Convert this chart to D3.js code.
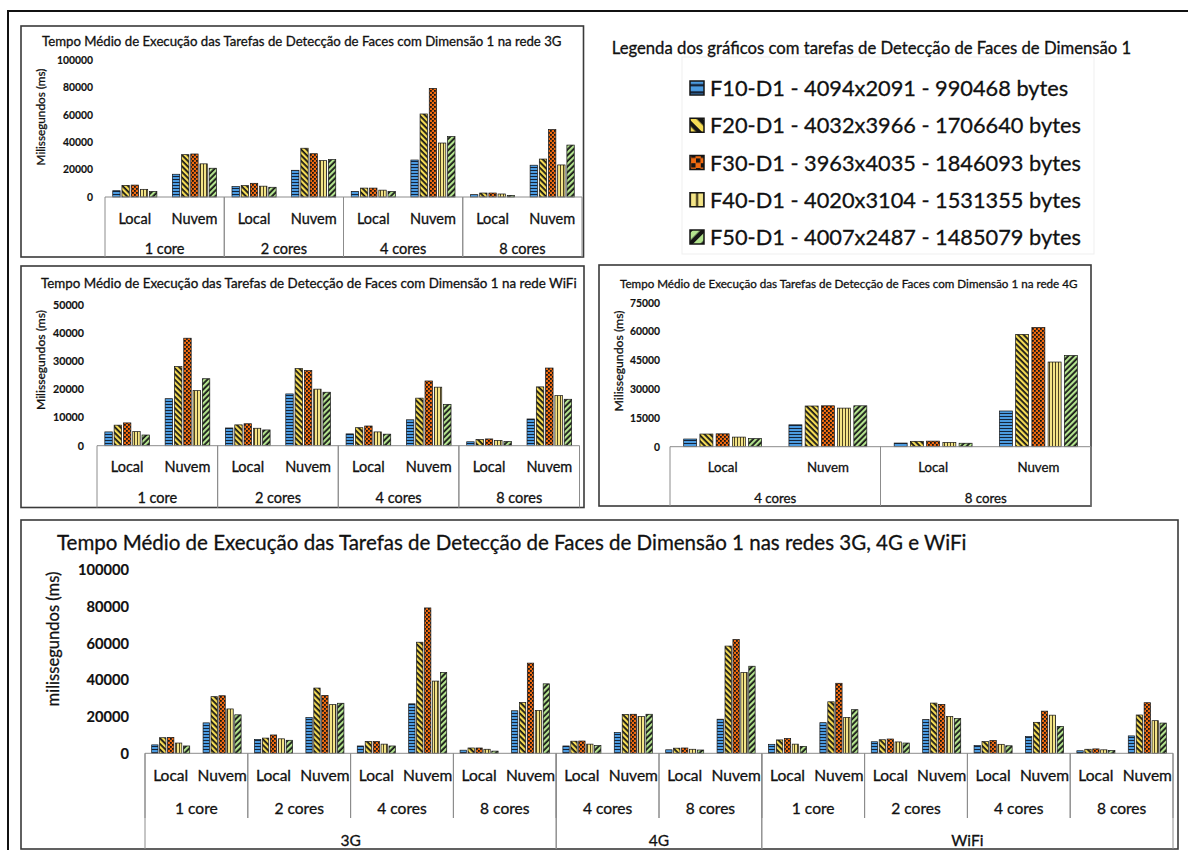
<!DOCTYPE html>
<html>
<head>
<meta charset="utf-8">
<script src="https://cdn.jsdelivr.net/npm/d3@7"></script>
<style>
  body { margin: 0; background: #fff; }
  svg { display: block; }
  text { font-family: Lato, "Open Sans", sans-serif; fill: #111; stroke: #111; stroke-width: 0.3px; }
  .tick text { stroke-width: 0.15px; }
</style>
</head>
<body>
<svg id="chart" width="1188" height="850"></svg>
<script>
// ---- data ----
const series = ["F10-D1", "F20-D1", "F30-D1", "F40-D1", "F50-D1"];
const legendLabels = [
  "F10-D1 - 4094x2091 - 990468 bytes",
  "F20-D1 - 4032x3966 - 1706640 bytes",
  "F30-D1 - 3963x4035 - 1846093 bytes",
  "F40-D1 - 4020x3104 - 1531355 bytes",
  "F50-D1 - 4007x2487 - 1485079 bytes"
];
const modes = ["Local", "Nuvem"];
const cores = ["1 core", "2 cores", "4 cores", "8 cores"];
const cores4G = ["4 cores", "8 cores"];
const networks = ["3G", "4G", "WiFi"];

// rows: F10..F50 ; columns: Local/Nuvem per core count (ms)
const values3G = [
  [4600, 16600, 7600, 19500, 4000, 27000, 1700, 23200],
  [8500, 30900, 8300, 35600, 6500, 60600, 2900, 27700],
  [8700, 31400, 10000, 31600, 6500, 79300, 2900, 49200],
  [5600, 24200, 7900, 26600, 5000, 39400, 2200, 23400],
  [4000, 21000, 7100, 27300, 4000, 44100, 1200, 37900]
];
const values4G = [
  [4000, 11400, 1900, 18600],
  [6600, 21200, 2800, 58500],
  [6700, 21300, 2900, 62100],
  [5000, 20100, 2200, 44100],
  [4200, 21300, 1800, 47500]
];
const valuesWiFi = [
  [4900, 16700, 6300, 18400, 4200, 9200, 1400, 9500],
  [7300, 28100, 7400, 27400, 6400, 16900, 2200, 20900],
  [8100, 38200, 7800, 26700, 7000, 23000, 2400, 27600],
  [5000, 19600, 6200, 20100, 4900, 20800, 1900, 17800],
  [3800, 23800, 5600, 19000, 4100, 14700, 1500, 16500]
];

const ticks3G = [0, 20000, 40000, 60000, 80000, 100000];
const ticksWiFi = [0, 10000, 20000, 30000, 40000, 50000];
const ticks4G = [0, 15000, 30000, 45000, 60000, 75000];
const ticksAll = [0, 20000, 40000, 60000, 80000, 100000];

const title3G = "Tempo Médio de Execução das Tarefas de Detecção de Faces com Dimensão 1 na rede 3G";
const titleWiFi = "Tempo Médio de Execução das Tarefas de Detecção de Faces com  Dimensão 1 na rede WiFi";
const title4G = "Tempo Médio de Execução das Tarefas de Detecção de Faces com Dimensão 1 na rede 4G";
const titleAll = "Tempo Médio de Execução das Tarefas de Detecção de Faces de Dimensão 1 nas redes 3G, 4G e WiFi";
const legendTitle = "Legenda dos gráficos com tarefas de Detecção de Faces de Dimensão 1";

// ---- styling ----
const colors = ["#4c9be0", "#f5dc55", "#f06a10", "#f3e487", "#b3e38e"];
const ink = "#151515";

const svg = d3.select("#chart");
svg.append("rect").attr("width", 1188).attr("height", 850).attr("fill", "#fff");
const defs = svg.append("defs");

// fill patterns for each series; k scales the motif
function makePattern(id, si, k) {
  let p;
  if (si === 0) { // horizontal stripes
    p = defs.append("pattern").attr("id", id).attr("patternUnits", "userSpaceOnUse")
      .attr("width", 3 * k).attr("height", 3 * k);
    p.append("rect").attr("width", 3 * k).attr("height", 3 * k).attr("fill", colors[0]);
    p.append("rect").attr("y", 2 * k).attr("width", 3 * k).attr("height", 1 * k).attr("fill", "#14243a");
  } else if (si === 1 || si === 4) { // diagonal stripes
    p = defs.append("pattern").attr("id", id).attr("patternUnits", "userSpaceOnUse")
      .attr("width", 4 * k).attr("height", 4 * k)
      .attr("patternTransform", `rotate(${si === 1 ? -45 : 45})`);
    p.append("rect").attr("width", 4 * k).attr("height", 4 * k).attr("fill", ink);
    p.append("rect").attr("width", 2.2 * k).attr("height", 4 * k).attr("fill", colors[si]);
  } else if (si === 2) { // checker
    p = defs.append("pattern").attr("id", id).attr("patternUnits", "userSpaceOnUse")
      .attr("width", 4 * k).attr("height", 4 * k);
    p.append("rect").attr("width", 4 * k).attr("height", 4 * k).attr("fill", colors[2]);
    p.append("rect").attr("width", 1.8 * k).attr("height", 1.8 * k).attr("fill", ink);
    p.append("rect").attr("x", 2 * k).attr("y", 2 * k).attr("width", 1.8 * k).attr("height", 1.8 * k).attr("fill", ink);
  } else { // vertical stripes
    p = defs.append("pattern").attr("id", id).attr("patternUnits", "userSpaceOnUse")
      .attr("width", 3 * k).attr("height", 3 * k);
    p.append("rect").attr("width", 3 * k).attr("height", 3 * k).attr("fill", colors[3]);
    p.append("rect").attr("x", 2 * k).attr("width", 0.9 * k).attr("height", 3 * k).attr("fill", "#3b3115");
  }
}
series.forEach((s, i) => { makePattern("pat" + i, i, 1); makePattern("leg" + i, i, 2.4); });

// font size that makes a string span a given width
function fitSize(text, weight, width) {
  const t = svg.append("text").attr("font-size", 100).attr("font-weight", weight).text(text);
  const w = t.node().getComputedTextLength();
  t.remove();
  return 100 * width / w;
}

function drawChart(c) {
  const g = svg.append("g");
  g.append("rect")
    .attr("x", c.box[0]).attr("y", c.box[1])
    .attr("width", c.box[2] - c.box[0]).attr("height", c.box[3] - c.box[1])
    .attr("fill", "#fff").attr("stroke", "#3a3a3a").attr("stroke-width", 1.6);

  g.append("text")
    .attr("x", c.titleX).attr("y", c.titleY).attr("dominant-baseline", "central")
    .attr("font-size", fitSize(c.title, "normal", c.titleW))
    .text(c.title);

  const y = d3.scaleLinear().domain([0, c.yMax]).range([c.yBase, c.yTop]);
  const ag = g.append("g").attr("transform", `translate(${c.tickX},0)`)
    .call(d3.axisLeft(y).tickValues(c.ticks).tickSize(0).tickPadding(0).tickFormat(d3.format("d")));
  ag.select(".domain").remove();
  ag.attr("font-family", null)
    .attr("font-size", fitSize(String(c.ticks[c.ticks.length - 1]), "bold", c.tickW))
    .attr("font-weight", "bold");
  ag.selectAll("text").attr("fill", "#111");

  g.append("text")
    .attr("transform", `translate(${c.yLabelX},${c.yLabelY}) rotate(-90)`)
    .attr("text-anchor", "middle").attr("dominant-baseline", "central")
    .attr("font-size", fitSize(c.yLabel, "normal", c.yLabelLen))
    .text(c.yLabel);

  const leaves = c.leaves;
  const x0 = d3.scaleBand().domain(d3.range(leaves.length)).range([c.xStart, c.xEnd]);
  const bw = x0.bandwidth();
  const x1 = d3.scaleBand().domain(series).range([bw * 0.13, bw * 0.87]).paddingInner(0.2);

  series.forEach((s, si) => {
    g.append("g").selectAll("rect").data(c.values[si]).join("rect")
      .attr("x", (d, i) => x0(i) + x1(s))
      .attr("width", x1.bandwidth())
      .attr("y", d => y(d))
      .attr("height", d => y(0) - y(d))
      .attr("fill", `url(#pat${si})`)
      .attr("stroke", ink).attr("stroke-width", 0.7);
  });

  // category table below the bars
  const catSize = fitSize("Nuvem", "normal", c.catW);
  g.append("line").attr("x1", c.xStart).attr("x2", c.xEnd)
    .attr("y1", y(0)).attr("y2", y(0)).attr("stroke", "#8c8c8c").attr("stroke-width", 1);
  const depth = leaves[0].length;
  for (let k = 0; k < depth; k++) {
    const spans = [];
    leaves.forEach((lf, i) => {
      const key = lf.slice(k).join("|");
      if (!spans.length || spans[spans.length - 1].key !== key) spans.push({ key, label: lf[k], start: i, end: i });
      else spans[spans.length - 1].end = i;
    });
    spans.forEach(sp => {
      const xa = x0(sp.start), xb = x0(sp.end) + bw;
      g.append("text").attr("x", (xa + xb) / 2).attr("y", c.rowY[k])
        .attr("text-anchor", "middle").attr("dominant-baseline", "central")
        .attr("font-size", catSize).text(sp.label);
      if (k >= 1) {
        [xa, xb].forEach(xv => g.append("line")
          .attr("x1", xv).attr("x2", xv).attr("y1", y(0)).attr("y2", c.lineBottoms[k])
          .attr("stroke", "#8c8c8c").attr("stroke-width", 1));
      }
    });
  }
}

const leavesCores = cores.flatMap(cr => modes.map(m => [m, cr]));
const leaves4G = cores4G.flatMap(cr => modes.map(m => [m, cr]));
const leavesAll = networks.flatMap(n => (n === "4G" ? cores4G : cores).flatMap(cr => modes.map(m => [m, cr, n])));
const valuesAll = series.map((s, i) => values3G[i].concat(values4G[i], valuesWiFi[i]));

// outer frame
svg.append("path").attr("d", "M8,852V11H1190").attr("fill", "none").attr("stroke", "#111").attr("stroke-width", 2);

drawChart({
  box: [21, 26, 583.5, 257], title: title3G, titleX: 42, titleY: 41, titleW: 520,
  yMax: 100000, ticks: ticks3G, yBase: 197, yTop: 60, tickX: 93, tickW: 36,
  yLabel: "Milissegundos (ms)", yLabelX: 40, yLabelY: 117, yLabelLen: 97,
  leaves: leavesCores, values: values3G, xStart: 105, xEnd: 582,
  rowY: [218, 248], catW: 46, lineBottoms: [null, 257]
});

drawChart({
  box: [21, 266, 584, 507.5], title: titleWiFi, titleX: 41, titleY: 283, titleW: 536,
  yMax: 50000, ticks: ticksWiFi, yBase: 445.7, yTop: 305, tickX: 84, tickW: 31,
  yLabel: "Milissegundos (ms)", yLabelX: 40, yLabelY: 360, yLabelLen: 100,
  leaves: leavesCores, values: valuesWiFi, xStart: 97, xEnd: 579.5,
  rowY: [466.7, 497.7], catW: 46, lineBottoms: [null, 507.5]
});

drawChart({
  box: [599, 265, 1091, 506], title: title4G, titleX: 620, titleY: 283, titleW: 458,
  yMax: 75000, ticks: ticks4G, yBase: 446.7, yTop: 302.7, tickX: 660, tickW: 30,
  yLabel: "Milissegundos (ms)", yLabelX: 618, yLabelY: 361, yLabelLen: 101,
  leaves: leaves4G, values: values4G, xStart: 670, xEnd: 1091,
  rowY: [467.3, 498.3], catW: 42, lineBottoms: [null, 506]
});

drawChart({
  box: [21, 520, 1178, 849], title: titleAll, titleX: 57, titleY: 541.5, titleW: 910,
  yMax: 100000, ticks: ticksAll, yBase: 753.3, yTop: 570, tickX: 129, tickW: 51,
  yLabel: "milissegundos (ms)", yLabelX: 53.3, yLabelY: 639, yLabelLen: 135,
  leaves: leavesAll, values: valuesAll, xStart: 145, xEnd: 1173,
  rowY: [775, 807.7, 840], catW: 49.3, lineBottoms: [null, 818, 849]
});

// legend
const lg = svg.append("g");
lg.append("rect").attr("x", 682).attr("y", 57).attr("width", 412).attr("height", 197)
  .attr("fill", "none").attr("stroke", "#efefef").attr("stroke-width", 1);
lg.append("text").attr("x", 611.7).attr("y", 48).attr("dominant-baseline", "central")
  .attr("font-size", fitSize(legendTitle, "normal", 520)).text(legendTitle);
const legSize = fitSize(legendLabels[1], "normal", 371);
const legY = d3.scalePoint().domain(series).range([88, 237]);
series.forEach((s, i) => {
  lg.append("rect").attr("x", 690).attr("y", legY(s) - 7).attr("width", 14).attr("height", 14)
    .attr("fill", `url(#leg${i})`).attr("stroke", ink).attr("stroke-width", 1.5);
  lg.append("text").attr("x", 710).attr("y", legY(s)).attr("dominant-baseline", "central")
    .attr("font-size", legSize).text(legendLabels[i]);
});
</script>
</body>
</html>
